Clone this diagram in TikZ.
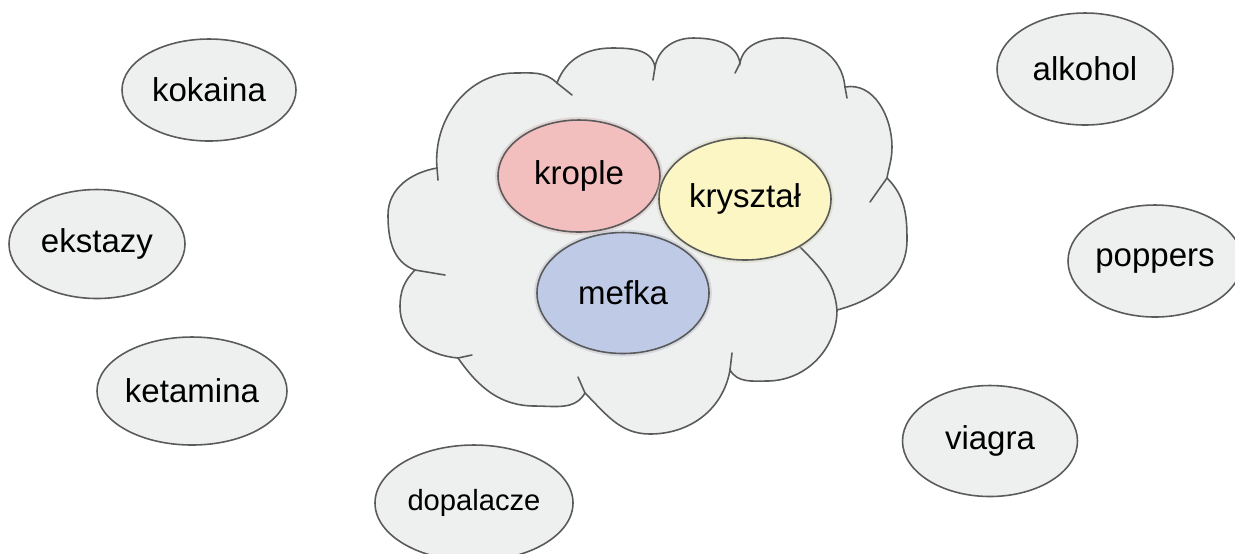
\documentclass[tikz,border=0pt]{standalone}
\usepackage{fontspec}
\setmainfont{Liberation Sans}
\usetikzlibrary{shapes}
\definecolor{cloudgray}{HTML}{EEEFEF}
\definecolor{edgegray}{HTML}{5A5A5A}
\definecolor{kroplered}{HTML}{F3BEBE}
\definecolor{krysztalyellow}{HTML}{FBF6C3}
\definecolor{mefkablue}{HTML}{BFCBE6}
\tikzstyle{drug}=[ellipse,draw=edgegray,fill=cloudgray,line width=0.45pt,inner sep=0pt,font=\fontsize{9.4}{11}\selectfont]
\tikzstyle{cloudline}=[draw=edgegray,line width=0.45pt,line cap=round]
\tikzset{glow/.style={drug,fill=#1,preaction={draw=#1!80!black,line width=1.6pt,opacity=0.3}}}

\begin{document}
\begin{tikzpicture}
    \useasboundingbox (0,0) rectangle (12.35,-5.53);
    % First we draw the cloud
    \path[cloudline,fill=cloudgray]
        (4.37,-1.68) to[out=95,in=180] (5.15,-0.73) to[out=0,in=135] (5.57,-0.83)
        to[out=70,in=180] (6.12,-0.48) to[out=0,in=100] (6.55,-0.67)
        to[out=80,in=180] (6.93,-0.38) to[out=0,in=100] (7.40,-0.63)
        to[out=80,in=180] (7.83,-0.38) to[out=0,in=95] (8.45,-0.87)
        to[out=10,in=90] (8.92,-1.47) to[out=-90,in=80] (8.87,-1.78)
        to[out=-45,in=90] (9.07,-2.40) to[out=-90,in=15] (8.37,-3.10)
        to[out=-90,in=0] (7.67,-3.81) to[out=180,in=-60] (7.30,-3.70)
        to[out=-100,in=0] (6.50,-4.34) to[out=180,in=-45] (5.85,-3.93)
        to[out=-120,in=0] (5.35,-4.06) to[out=180,in=-55] (4.58,-3.58)
        to[out=175,in=-90] (4.00,-3.07) to[out=90,in=-135] (4.15,-2.70)
        to[out=160,in=-90] (3.88,-2.15) to[out=90,in=190] (4.37,-1.68) -- cycle;

    % the little inward strokes at the dents
    \foreach \source/\dest in {{(4.37,-1.68)/(4.38,-1.80)}, {(5.57,-0.83)/(5.72,-0.95)}, {(6.55,-0.67)/(6.53,-0.80)},
        {(7.40,-0.63)/(7.35,-0.73)}, {(8.45,-0.87)/(8.47,-0.98)}, {(8.87,-1.78)/(8.70,-2.02)},
        {(7.30,-3.70)/(7.32,-3.53)}, {(5.85,-3.93)/(5.78,-3.77)}, {(4.58,-3.58)/(4.72,-3.55)},
        {(4.15,-2.70)/(4.45,-2.75)}}
        \draw[cloudline] \source -- \dest;
    \draw[cloudline] (8.37,-3.10) to[out=95,in=-45] (8.00,-2.47);

    % Then the three names inside the cloud
    \node[glow=kroplered,minimum width=1.62cm,minimum height=1.12cm] (krople) at (5.79,-1.76) {krople};
    \node[glow=krysztalyellow,minimum width=1.72cm,minimum height=1.22cm] (krysztal) at (7.45,-1.99) {kryształ};
    \node[glow=mefkablue,minimum width=1.72cm,minimum height=1.21cm] (mefka) at (6.23,-2.93) {mefka};

    % And the ones around it
    \foreach \pos/\name/\w/\h in {{(2.09,-0.90)/kokaina/1.74/1.02}, {(0.97,-2.44)/ekstazy/1.76/1.09},
        {(1.92,-3.91)/ketamina/1.90/1.08}, {(10.85,-0.69)/alkohol/1.76/1.12},
        {(11.55,-2.61)/poppers/1.74/1.12}, {(9.90,-4.41)/viagra/1.75/1.11}}
        \node[drug,minimum width=\w cm,minimum height=\h cm] (\name) at \pos {\name};
    \node[drug,font=\fontsize{8.3}{10}\selectfont,minimum width=1.98cm,minimum height=1.16cm] (dopalacze) at (4.74,-5.03) {dopalacze};
\end{tikzpicture}
\end{document}
